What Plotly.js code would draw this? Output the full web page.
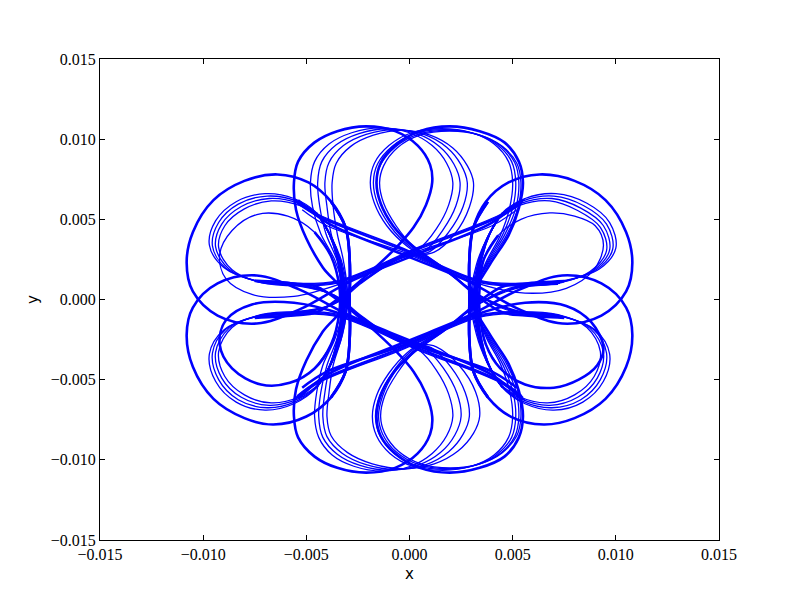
<!DOCTYPE html>
<html>
<head>
<meta charset="utf-8">
<script src="https://cdn.plot.ly/plotly-3.0.1.min.js"></script>
<style>
  html, body { margin: 0; padding: 0; background: #fff; }
  #graph { width: 800px; height: 600px; }
</style>
</head>
<body>
<div id="graph"></div>
<script>
// loop coordinates, in units of 1e-3
// left-upper lobes
const luX = [
  [5.4, 4.0, 0.3, -2.9, -5.3, -7.4, -9.3, -10.5, -10.8, -10.5, -9.5, -8.0, -6.4, -4.9, -3.8, -3.1, -2.9, -2.9, -2.9, -3.1, -3.8],
  [5.6, 4.4, 0.5, -3.4, -5.5, -7.5, -9.0, -9.7, -9.4, -8.4, -7.0, -5.6, -4.5, -3.9, -3.5, -3.3, -3.3, -3.5, -3.9, -4.5],
  [5.55, 4.4, 0.5, -3.4, -5.5, -7.4, -8.9, -9.55, -9.25, -8.3, -6.9, -5.5, -4.45, -3.85, -3.45, -3.25, -3.25, -3.45, -3.85, -4.45],
  [5.5, 4.4, 0.5, -3.4, -5.45, -7.3, -8.75, -9.4, -9.1, -8.15, -6.8, -5.4, -4.4, -3.8, -3.4, -3.2, -3.2, -3.4, -3.8, -4.4],
  [5.45, 4.4, 0.5, -3.4, -5.4, -7.2, -8.6, -9.25, -8.95, -8.0, -6.7, -5.3, -4.35, -3.75, -3.35, -3.15, -3.15, -3.35, -3.75, -4.35],
  [5.2, 4.0, 0.4, -3.3, -5.6, -7.6, -8.9, -9.2, -8.6, -7.4, -5.9, -4.6, -3.8, -3.4, -3.4, -3.8, -4.6]
];
const luY = [
  [6.2, 4.8, 2.8, 1.1, -0.6, -1.5, -1.0, 0.5, 2.3, 4.2, 6.2, 7.4, 7.8, 7.3, 6.1, 4.5, 2.5, 0.0, -2.5, -4.5, -6.1],
  [6.3, 5.3, 3.3, 1.2, 1.0, 1.2, 2.0, 3.4, 4.9, 6.1, 6.6, 6.3, 5.4, 4.1, 2.5, 0.5, -0.5, -2.5, -4.2, -5.5],
  [6.2, 5.25, 3.25, 1.15, 0.95, 1.15, 1.95, 3.35, 4.8, 5.95, 6.45, 6.15, 5.3, 4.0, 2.45, 0.45, -0.45, -2.45, -4.1, -5.4],
  [6.1, 5.2, 3.2, 1.1, 0.9, 1.1, 1.9, 3.3, 4.7, 5.8, 6.3, 6.0, 5.2, 3.9, 2.4, 0.4, -0.4, -2.4, -4.0, -5.3],
  [6.0, 5.15, 3.15, 1.05, 0.85, 1.05, 1.85, 3.25, 4.6, 5.65, 6.15, 5.85, 5.1, 3.8, 2.35, 0.35, -0.35, -2.35, -3.9, -5.2],
  [5.6, 4.6, 3.0, 1.0, 0.2, 0.3, 1.3, 2.8, 4.3, 5.3, 5.2, 4.2, 2.7, 0.8, -0.8, -2.8, -4.3]
];

// right-upper lobes
const ruX = [
  [-5.4, -4.0, -0.3, 2.9, 5.3, 7.4, 9.3, 10.5, 10.8, 10.5, 9.5, 8.0, 6.3, 4.8, 3.7, 3.1, 2.9, 2.9, 2.9, 3.1, 3.8],
  [-5.6, -4.4, -0.5, 3.4, 5.5, 7.6, 9.2, 10.0, 9.7, 8.6, 7.1, 5.6, 4.5, 3.9, 3.5, 3.3, 3.3, 3.5, 3.9, 4.5],
  [-5.55, -4.4, -0.5, 3.4, 5.5, 7.5, 9.05, 9.85, 9.55, 8.45, 7.0, 5.5, 4.45, 3.85, 3.45, 3.25, 3.25, 3.45, 3.85, 4.45],
  [-5.5, -4.4, -0.5, 3.4, 5.45, 7.4, 8.9, 9.7, 9.4, 8.3, 6.9, 5.4, 4.4, 3.8, 3.4, 3.2, 3.2, 3.4, 3.8, 4.4],
  [-5.45, -4.4, -0.5, 3.4, 5.4, 7.3, 8.75, 9.55, 9.25, 8.15, 6.8, 5.3, 4.35, 3.75, 3.35, 3.15, 3.15, 3.35, 3.75, 4.35],
  [-5.2, -4.0, -0.4, 3.3, 5.6, 7.6, 8.9, 9.4, 9.0, 8.0, 6.8, 5.4, 4.3, 3.6, 3.4, 3.4, 3.7, 4.4]
];
const ruY = [
  [6.2, 4.8, 2.8, 1.1, -0.6, -1.5, -1.0, 0.5, 2.3, 4.2, 6.2, 7.4, 7.8, 7.3, 6.1, 4.5, 2.5, 0.0, -2.5, -4.5, -6.1],
  [6.3, 5.3, 3.3, 1.2, 1.0, 1.2, 1.9, 3.2, 4.8, 6.0, 6.6, 6.3, 5.4, 4.1, 2.5, 0.5, -0.5, -2.5, -4.2, -5.5],
  [6.2, 5.25, 3.25, 1.15, 0.95, 1.15, 1.85, 3.15, 4.7, 5.85, 6.45, 6.15, 5.3, 4.0, 2.45, 0.45, -0.45, -2.45, -4.1, -5.4],
  [6.1, 5.2, 3.2, 1.1, 0.9, 1.1, 1.8, 3.1, 4.6, 5.7, 6.3, 6.0, 5.2, 3.9, 2.4, 0.4, -0.4, -2.4, -4.0, -5.3],
  [6.0, 5.15, 3.15, 1.05, 0.85, 1.05, 1.75, 3.05, 4.5, 5.55, 6.15, 5.85, 5.1, 3.8, 2.35, 0.35, -0.35, -2.35, -3.9, -5.2],
  [5.6, 4.6, 3.0, 1.0, 0.4, 0.7, 1.8, 3.4, 4.6, 5.2, 5.4, 5.0, 4.0, 2.5, 0.8, -0.8, -2.8, -4.3]
];

// left-lower lobes
const ldX = [
  [5.4, 4.0, 0.3, -2.9, -5.3, -7.4, -9.3, -10.5, -10.8, -10.5, -9.5, -8.0, -6.6, -5.0, -3.8, -3.1, -2.9, -2.9, -2.9, -3.1, -3.8],
  [5.6, 4.4, 0.5, -3.4, -5.5, -7.5, -9.0, -9.7, -9.4, -8.4, -7.0, -5.6, -4.5, -3.9, -3.5, -3.3, -3.3, -3.5, -3.9, -4.5],
  [5.55, 4.4, 0.5, -3.4, -5.5, -7.4, -8.9, -9.55, -9.25, -8.3, -6.9, -5.5, -4.45, -3.85, -3.45, -3.25, -3.25, -3.45, -3.85, -4.45],
  [5.5, 4.4, 0.5, -3.4, -5.45, -7.3, -8.75, -9.4, -9.1, -8.15, -6.8, -5.4, -4.4, -3.8, -3.4, -3.2, -3.2, -3.4, -3.8, -4.4],
  [5.45, 4.4, 0.5, -3.4, -5.4, -7.2, -8.6, -9.25, -8.95, -8.0, -6.7, -5.3, -4.35, -3.75, -3.35, -3.15, -3.15, -3.35, -3.75, -4.35],
  [5.2, 4.0, 0.4, -3.3, -5.6, -7.6, -8.9, -9.2, -8.6, -7.2, -5.8, -4.6, -3.8, -3.4, -3.4, -3.8, -4.6]
];
const ldY = [
  [-6.2, -4.7, -2.7, -1.0, 0.6, 1.5, 1.0, -0.5, -2.2, -4.2, -6.2, -7.4, -7.8, -7.3, -6.1, -4.5, -2.5, 0.0, 2.5, 4.5, 6.1],
  [-6.3, -5.2, -3.2, -1.1, -0.9, -1.1, -1.9, -3.4, -5.1, -6.4, -6.9, -6.5, -5.5, -4.2, -2.5, -0.5, 0.5, 2.5, 4.1, 5.4],
  [-6.2, -5.15, -3.15, -1.05, -0.85, -1.05, -1.85, -3.35, -5.0, -6.25, -6.75, -6.35, -5.4, -4.1, -2.45, -0.45, 0.45, 2.45, 4.0, 5.3],
  [-6.1, -5.1, -3.1, -1.0, -0.8, -1.0, -1.8, -3.3, -4.9, -6.1, -6.6, -6.2, -5.3, -4.0, -2.4, -0.4, 0.4, 2.4, 3.9, 5.2],
  [-6.0, -5.05, -3.05, -0.95, -0.75, -0.95, -1.75, -3.25, -4.8, -5.95, -6.45, -6.05, -5.2, -3.9, -2.35, -0.35, 0.35, 2.35, 3.8, 5.1],
  [-5.5, -4.5, -2.9, -0.9, -0.2, -0.3, -1.3, -2.8, -4.3, -5.3, -5.2, -4.3, -2.8, -0.8, 0.8, 2.7, 4.2]
];

// right-lower lobes
const rdX = [
  [-5.4, -4.0, -0.3, 2.9, 5.3, 7.4, 9.3, 10.5, 10.8, 10.5, 9.5, 8.0, 6.5, 4.9, 3.8, 3.1, 2.9, 2.9, 2.9, 3.1, 3.8],
  [-5.6, -4.4, -0.5, 3.4, 5.5, 7.5, 9.0, 9.7, 9.4, 8.4, 7.0, 5.6, 4.5, 3.9, 3.5, 3.3, 3.3, 3.5, 3.9, 4.5],
  [-5.55, -4.4, -0.5, 3.4, 5.5, 7.4, 8.9, 9.55, 9.25, 8.3, 6.9, 5.5, 4.45, 3.85, 3.45, 3.25, 3.25, 3.45, 3.85, 4.45],
  [-5.5, -4.4, -0.5, 3.4, 5.45, 7.3, 8.75, 9.4, 9.1, 8.15, 6.8, 5.4, 4.4, 3.8, 3.4, 3.2, 3.2, 3.4, 3.8, 4.4],
  [-5.45, -4.4, -0.5, 3.4, 5.4, 7.2, 8.6, 9.25, 8.95, 8.0, 6.7, 5.3, 4.35, 3.75, 3.35, 3.15, 3.15, 3.35, 3.75, 4.35],
  [-5.2, -4.0, -0.4, 3.3, 5.6, 7.6, 8.8, 9.4, 9.1, 8.2, 7.0, 5.6, 4.4, 3.7, 3.4, 3.4, 3.6, 4.3]
];
const rdY = [
  [-6.2, -4.7, -2.7, -1.0, 0.6, 1.5, 1.0, -0.5, -2.2, -4.2, -6.2, -7.4, -7.8, -7.3, -6.1, -4.5, -2.5, 0.0, 2.5, 4.5, 6.1],
  [-6.3, -5.2, -3.2, -1.1, -0.9, -1.1, -1.9, -3.4, -5.1, -6.4, -6.9, -6.5, -5.5, -4.2, -2.5, -0.5, 0.5, 2.5, 4.1, 5.4],
  [-6.2, -5.15, -3.15, -1.05, -0.85, -1.05, -1.85, -3.35, -5.0, -6.25, -6.75, -6.35, -5.4, -4.1, -2.45, -0.45, 0.45, 2.45, 4.0, 5.3],
  [-6.1, -5.1, -3.1, -1.0, -0.8, -1.0, -1.8, -3.3, -4.9, -6.1, -6.6, -6.2, -5.3, -4.0, -2.4, -0.4, 0.4, 2.4, 3.9, 5.2],
  [-6.0, -5.05, -3.05, -0.95, -0.75, -0.95, -1.75, -3.25, -4.8, -5.95, -6.45, -6.05, -5.2, -3.9, -2.35, -0.35, 0.35, 2.35, 3.8, 5.1],
  [-5.5, -4.5, -2.9, -0.9, -0.2, -0.4, -1.4, -3.0, -4.1, -5.0, -5.5, -5.3, -4.3, -2.8, -0.8, 0.8, 2.5, 4.0]
];

// top-left lobes
const tlX = [
  [-3.8, -3.1, -2.9, -3.05, -4.2, -5.0, -5.5, -5.6, -5.4, -4.6, -3.5, -2.1, -0.7, 0.4, 1.0, 1.1, 0.8, 0.2, -0.6, -2.0, -3.3, -4.5, -5.6, -7.5],
  [-4.5, -3.9, -3.4, -3.15, -3.6, -4.3, -4.7, -4.8, -4.6, -3.9, -2.8, -1.4, 0.0, 1.1, 1.8, 2.1, 1.9, 1.3, 0.5, -0.8, -2.6, -3.9, -5.5, -7.5],
  [-4.45, -3.85, -3.35, -3.1, -3.5, -4.05, -4.35, -4.45, -4.25, -3.55, -2.45, -1.05, 0.35, 1.45, 2.15, 2.45, 2.25, 1.6, 0.8, -0.6, -2.5, -3.8, -5.5, -7.4],
  [-4.4, -3.8, -3.3, -3.05, -3.4, -3.8, -4.0, -4.1, -3.9, -3.2, -2.1, -0.7, 0.7, 1.8, 2.5, 2.8, 2.6, 1.9, 1.0, -0.5, -2.4, -3.7, -5.45, -7.3],
  [-4.35, -3.75, -3.25, -3.0, -3.2, -3.5, -3.7, -3.75, -3.55, -2.85, -1.75, -0.4, 1.0, 2.1, 2.8, 3.1, 2.9, 2.2, 1.2, -0.4, -2.3, -3.6, -5.4, -7.2]
];
const tlY = [
  [-6.1, -4.5, -2.5, 0.2, 2.0, 3.8, 5.6, 7.3, 8.6, 9.8, 10.5, 10.8, 10.5, 9.6, 8.4, 7.3, 5.9, 4.5, 3.3, 1.6, 0.2, -0.8, -1.0, -1.15],
  [-5.5, -4.2, -2.2, 0.2, 2.4, 4.1, 5.8, 7.3, 8.6, 9.7, 10.4, 10.7, 10.4, 9.6, 8.5, 7.3, 5.9, 4.4, 3.2, 2.45, 0.9, -0.4, -0.9, -1.1],
  [-5.4, -4.1, -2.2, 0.2, 2.4, 4.1, 5.8, 7.3, 8.6, 9.65, 10.35, 10.65, 10.35, 9.55, 8.45, 7.3, 5.85, 4.3, 3.1, 2.5, 0.95, -0.35, -0.85, -1.05],
  [-5.3, -4.0, -2.2, 0.2, 2.4, 4.1, 5.8, 7.3, 8.55, 9.6, 10.3, 10.6, 10.3, 9.5, 8.4, 7.3, 5.8, 4.2, 3.0, 2.55, 1.0, -0.3, -0.8, -1.0],
  [-5.2, -3.9, -2.2, 0.2, 2.4, 4.1, 5.8, 7.3, 8.5, 9.55, 10.25, 10.55, 10.25, 9.45, 8.35, 7.3, 5.75, 4.1, 2.95, 2.6, 1.05, -0.25, -0.75, -0.95]
];

// top-right lobes
const trX = [
  [3.8, 3.1, 2.9, 3.05, 3.9, 4.8, 5.3, 5.5, 5.3, 4.6, 3.4, 1.95, 0.5, -0.7, -1.4, -1.6, -1.4, -0.8, 0.1, 1.9, 3.3, 4.5, 5.6, 7.5],
  [4.5, 3.9, 3.4, 3.15, 3.7, 4.4, 4.85, 5.0, 4.8, 4.1, 3.0, 1.55, 0.1, -1.0, -1.7, -1.9, -1.7, -1.1, -0.1, 1.6, 3.2, 4.4, 5.5, 7.5],
  [4.45, 3.85, 3.35, 3.1, 3.75, 4.5, 5.0, 5.15, 4.95, 4.25, 3.15, 1.7, 0.25, -0.85, -1.55, -1.75, -1.55, -0.95, 0.0, 1.65, 3.2, 4.4, 5.5, 7.4],
  [4.4, 3.8, 3.3, 3.05, 3.8, 4.6, 5.15, 5.3, 5.1, 4.4, 3.3, 1.85, 0.4, -0.7, -1.4, -1.6, -1.4, -0.8, 0.1, 1.7, 3.2, 4.4, 5.45, 7.3],
  [4.35, 3.75, 3.25, 3.0, 3.85, 4.7, 5.25, 5.4, 5.2, 4.5, 3.4, 1.95, 0.5, -0.6, -1.25, -1.45, -1.25, -0.65, 0.2, 1.75, 3.2, 4.4, 5.4, 7.2]
];
const trY = [
  [-6.1, -4.5, -2.5, 0.2, 2.2, 4.0, 5.7, 7.3, 8.6, 9.8, 10.5, 10.8, 10.5, 9.6, 8.5, 7.3, 6.0, 4.6, 3.4, 1.7, 0.2, -0.8, -1.0, -1.15],
  [-5.5, -4.2, -2.2, 0.2, 2.3, 4.0, 5.7, 7.3, 8.6, 9.7, 10.4, 10.65, 10.4, 9.6, 8.5, 7.3, 6.0, 4.6, 3.3, 1.9, 0.4, -0.5, -0.9, -1.1],
  [-5.4, -4.1, -2.2, 0.2, 2.3, 4.0, 5.7, 7.3, 8.6, 9.65, 10.35, 10.6, 10.35, 9.55, 8.45, 7.3, 6.0, 4.6, 3.3, 1.9, 0.4, -0.45, -0.85, -1.05],
  [-5.3, -4.0, -2.2, 0.2, 2.3, 4.0, 5.7, 7.3, 8.55, 9.6, 10.3, 10.55, 10.3, 9.5, 8.4, 7.3, 6.0, 4.6, 3.3, 1.9, 0.4, -0.4, -0.8, -1.0],
  [-5.2, -3.9, -2.2, 0.2, 2.3, 4.0, 5.7, 7.3, 8.5, 9.55, 10.25, 10.5, 10.25, 9.45, 8.35, 7.3, 6.0, 4.6, 3.3, 1.9, 0.4, -0.35, -0.75, -0.95]
];

// bottom-left lobes
const blX = [
  [-3.8, -3.1, -2.9, -3.05, -4.2, -5.0, -5.5, -5.6, -5.4, -4.6, -3.5, -2.1, -0.7, 0.4, 1.0, 1.1, 0.8, 0.2, -0.6, -2.0, -3.3, -4.5, -5.6, -7.5],
  [-4.5, -3.9, -3.4, -3.15, -3.6, -4.2, -4.5, -4.6, -4.4, -3.75, -2.7, -1.3, 0.05, 1.1, 1.8, 2.1, 1.9, 1.3, 0.5, -0.8, -2.6, -3.9, -5.5, -7.5],
  [-4.45, -3.85, -3.35, -3.1, -3.5, -4.0, -4.3, -4.4, -4.2, -3.5, -2.4, -1.0, 0.4, 1.5, 2.2, 2.5, 2.3, 1.65, 0.8, -0.6, -2.5, -3.8, -5.5, -7.4],
  [-4.4, -3.8, -3.3, -3.05, -3.4, -3.85, -4.1, -4.2, -4.0, -3.25, -2.1, -0.65, 0.8, 1.9, 2.6, 2.9, 2.7, 2.0, 1.05, -0.5, -2.4, -3.7, -5.45, -7.3],
  [-4.35, -3.75, -3.25, -3.0, -3.3, -3.7, -3.9, -4.0, -3.8, -3.0, -1.8, -0.3, 1.2, 2.35, 3.1, 3.4, 3.2, 2.4, 1.3, -0.4, -2.3, -3.6, -5.4, -7.2]
];
const blY = [
  [6.1, 4.5, 2.5, -0.2, -2.0, -3.8, -5.6, -7.3, -8.6, -9.8, -10.5, -10.8, -10.5, -9.6, -8.4, -7.3, -5.9, -4.5, -3.3, -1.6, -0.2, 0.8, 1.0, 1.15],
  [5.4, 4.1, 2.2, -0.2, -2.4, -4.1, -5.8, -7.3, -8.6, -9.7, -10.4, -10.7, -10.4, -9.6, -8.5, -7.3, -5.9, -4.4, -3.2, -2.45, -0.9, 0.4, 1.0, 1.2],
  [5.3, 4.0, 2.2, -0.2, -2.4, -4.1, -5.8, -7.3, -8.6, -9.65, -10.35, -10.65, -10.35, -9.55, -8.45, -7.3, -5.85, -4.3, -3.1, -2.5, -0.95, 0.35, 0.95, 1.15],
  [5.2, 3.9, 2.2, -0.2, -2.4, -4.1, -5.8, -7.3, -8.55, -9.6, -10.3, -10.6, -10.3, -9.5, -8.4, -7.3, -5.8, -4.2, -3.0, -2.55, -1.0, 0.3, 0.9, 1.1],
  [5.1, 3.8, 2.2, -0.2, -2.4, -4.1, -5.8, -7.3, -8.5, -9.55, -10.25, -10.55, -10.25, -9.45, -8.35, -7.3, -5.75, -4.1, -2.95, -2.6, -1.05, 0.25, 0.85, 1.05]
];

// bottom-right lobes
const brX = [
  [3.8, 3.1, 2.9, 3.05, 3.9, 4.8, 5.3, 5.5, 5.3, 4.6, 3.4, 1.95, 0.5, -0.7, -1.4, -1.6, -1.4, -0.8, 0.1, 1.9, 3.3, 4.5, 5.6, 7.5],
  [4.5, 3.9, 3.4, 3.15, 3.7, 4.4, 4.85, 5.0, 4.8, 4.1, 3.0, 1.6, 0.15, -0.95, -1.6, -1.8, -1.6, -1.0, -0.1, 1.6, 3.2, 4.4, 5.5, 7.5],
  [4.45, 3.85, 3.35, 3.1, 3.75, 4.5, 5.0, 5.15, 4.95, 4.25, 3.15, 1.75, 0.3, -0.8, -1.45, -1.65, -1.45, -0.85, 0.0, 1.65, 3.2, 4.4, 5.5, 7.4],
  [4.4, 3.8, 3.3, 3.05, 3.8, 4.6, 5.15, 5.3, 5.1, 4.4, 3.3, 1.9, 0.45, -0.65, -1.3, -1.5, -1.3, -0.75, 0.1, 1.7, 3.2, 4.4, 5.45, 7.3],
  [4.35, 3.75, 3.25, 3.0, 3.85, 4.7, 5.25, 5.4, 5.2, 4.5, 3.4, 2.0, 0.55, -0.55, -1.2, -1.4, -1.2, -0.6, 0.2, 1.75, 3.2, 4.4, 5.4, 7.2]
];
const brY = [
  [6.1, 4.5, 2.5, -0.2, -2.2, -4.0, -5.7, -7.3, -8.6, -9.8, -10.5, -10.8, -10.5, -9.6, -8.5, -7.3, -6.0, -4.6, -3.4, -1.7, -0.2, 0.8, 1.0, 1.15],
  [5.4, 4.1, 2.2, -0.2, -2.3, -4.0, -5.7, -7.3, -8.6, -9.7, -10.4, -10.65, -10.4, -9.6, -8.5, -7.3, -6.0, -4.6, -3.3, -1.9, -0.4, 0.5, 0.9, 1.1],
  [5.3, 4.0, 2.2, -0.2, -2.3, -4.0, -5.7, -7.3, -8.6, -9.65, -10.35, -10.6, -10.35, -9.55, -8.45, -7.3, -6.0, -4.6, -3.3, -1.9, -0.4, 0.45, 0.85, 1.05],
  [5.2, 3.9, 2.2, -0.2, -2.3, -4.0, -5.7, -7.3, -8.55, -9.6, -10.3, -10.55, -10.3, -9.5, -8.4, -7.3, -6.0, -4.6, -3.3, -1.9, -0.4, 0.4, 0.8, 1.0],
  [5.1, 3.8, 2.2, -0.2, -2.3, -4.0, -5.7, -7.3, -8.5, -9.55, -10.25, -10.5, -10.25, -9.45, -8.35, -7.3, -6.0, -4.6, -3.3, -1.9, -0.4, 0.35, 0.75, 0.95]
];

const xTicks = [-0.015, -0.010, -0.005, 0.000, 0.005, 0.010, 0.015];
const yTicks = [-0.015, -0.010, -0.005, 0.000, 0.005, 0.010, 0.015];

// which loops of each group are drawn heavier (several passes on top of each other)
const groups = [
  { xs: luX, ys: luY, heavy: [0] },
  { xs: ruX, ys: ruY, heavy: [0] },
  { xs: ldX, ys: ldY, heavy: [0, 5] },
  { xs: rdX, ys: rdY, heavy: [0, 5] },
  { xs: tlX, ys: tlY, heavy: [0] },
  { xs: trX, ys: trY, heavy: [0] },
  { xs: blX, ys: blY, heavy: [0] },
  { xs: brX, ys: brY, heavy: [0] }
];

const traces = [];
groups.forEach(g => {
  g.xs.forEach((lx, i) => {
    traces.push({
      x: lx.map(v => v * 1e-3),
      y: g.ys[i].map(v => v * 1e-3),
      mode: 'lines',
      type: 'scatter',
      hoverinfo: 'skip',
      line: {
        color: '#0000ff',
        width: g.heavy.includes(i) ? 2.6 : 1.3,
        shape: 'spline',
        smoothing: 1
      }
    });
  });
});

const tickFont = { family: 'Liberation Serif, DejaVu Serif, serif', size: 16, color: '#000' };

const axisBase = {
  range: [-0.015, 0.015],
  tickmode: 'array',
  tickformat: '.3f',
  ticks: 'inside',
  ticklen: 5,
  tickwidth: 1,
  tickcolor: '#000',
  showline: true,
  linecolor: '#000',
  linewidth: 1,
  mirror: 'ticks',
  showgrid: false,
  zeroline: false,
  tickfont: tickFont
};

const layout = {
  width: 800,
  height: 600,
  margin: { l: 100, r: 81, t: 59, b: 60 },
  paper_bgcolor: '#fff',
  plot_bgcolor: '#fff',
  showlegend: false,
  xaxis: Object.assign({}, axisBase, {
    tickvals: xTicks,
    title: { text: 'x', font: { family: 'DejaVu Sans', size: 15, color: '#000' }, standoff: 6 }
  }),
  yaxis: Object.assign({}, axisBase, {
    tickvals: yTicks,
    title: { text: 'y', font: { family: 'DejaVu Sans', size: 15, color: '#000' }, standoff: 8 }
  })
};

Plotly.newPlot('graph', traces, layout, { staticPlot: true });
</script>
</body>
</html>
